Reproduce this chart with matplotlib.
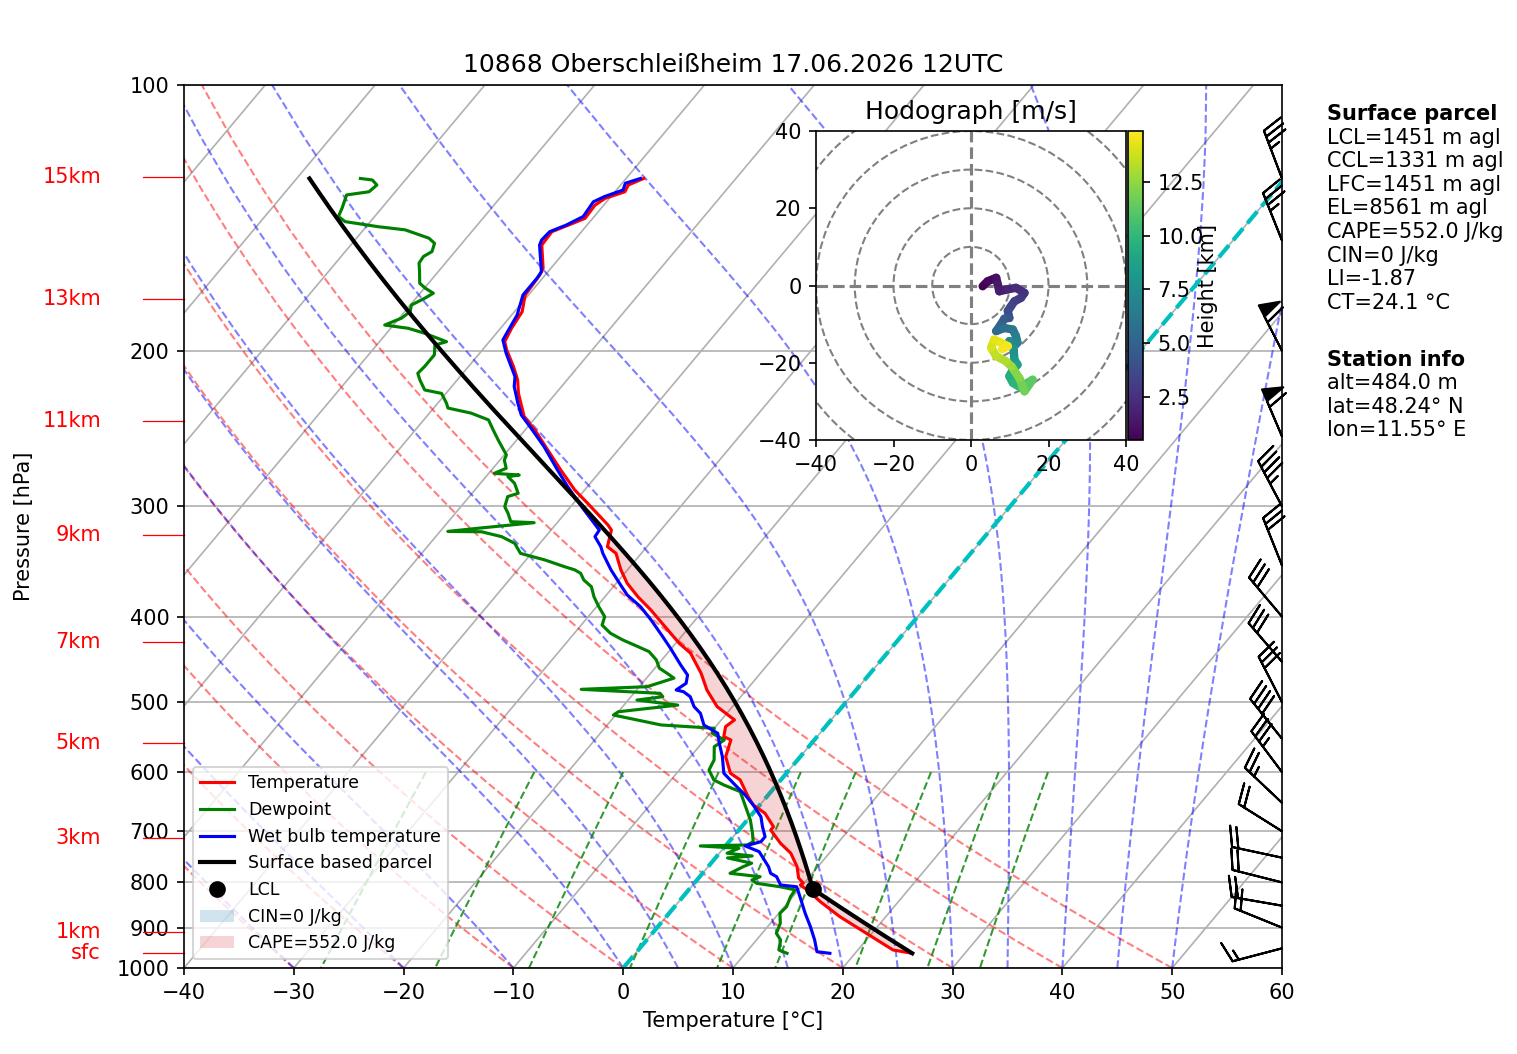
import numpy as np
import matplotlib
matplotlib.use("Agg")
import matplotlib.pyplot as plt
import matplotlib.transforms as mtransforms
from matplotlib.collections import LineCollection
from matplotlib.lines import Line2D
from matplotlib.patches import Patch, Circle
from matplotlib.ticker import FixedLocator, ScalarFormatter, NullLocator, NullFormatter

# ---- sounding values (hPa, degC) ----
p_temp = np.array([962.4, 954.1, 913.5, 874.6, 841.3, 815.8, 805.4, 801.2, 790.7, 767.8,
                   741.3, 722.3, 697.8, 691.8, 668.0, 653.7, 639.7, 612.4, 601.8, 576.3,
                   551.7, 547.0, 532.9, 523.7, 505.8, 484.3, 463.7, 440.0, 428.7, 405.4,
                   393.2, 379.8, 366.7, 354.1, 339.2, 333.3, 319.2, 315.0, 297.7, 287.5,
                   272.9, 259.1, 245.9, 237.5, 231.3, 223.5, 215.8, 208.4, 199.5, 195.3,
                   188.6, 180.6, 172.9, 164.1, 161.3, 151.8, 146.6, 144.1, 141.6, 136.8,
                   134.4, 132.1, 129.8, 127.6])
t_temp = np.array([25.2, 23.2, 19.5, 15.8, 12.9, 10.8, 9.8, 9.9, 9.1, 8.1,
                   6.5, 4.8, 2.9, 2.9, 1.1, -0.6, -1.7, -3.7, -5.1, -6.8,
                   -7.6, -8.5, -9.1, -8.8, -11.4, -13.6, -15.4, -17.9, -19.7, -23.0,
                   -24.8, -27.0, -29.0, -30.6, -32.3, -33.6, -34.5, -35.2, -38.7, -40.9,
                   -43.7, -46.4, -49.1, -51.1, -52.1, -53.4, -54.5, -55.9, -57.8, -58.6,
                   -59.0, -59.3, -60.3, -60.5, -60.7, -62.6, -62.7, -61.7, -60.7, -60.8,
                   -60.4, -59.1, -59.3, -58.4])

p_dew = np.array([962.4, 954.1, 929.6, 913.5, 890.1, 867.1, 852.4, 830.4, 815.8, 809.1,
                  801.9, 794.9, 788.1, 781.2, 767.8, 760.9, 750.5, 746.7, 741.3, 731.9,
                  727.4, 725.6, 719.4, 704.0, 680.1, 631.4, 620.5, 612.4, 596.7, 581.3,
                  561.5, 551.7, 542.3, 535.2, 530.6, 517.0, 512.6, 503.8, 497.2, 492.9,
                  488.6, 483.5, 480.2, 469.6, 463.7, 457.5, 447.8, 438.2, 432.5, 425.0,
                  417.8, 408.9, 400.1, 389.8, 379.8, 370.0, 363.6, 357.3, 354.1, 351.1,
                  345.0, 339.2, 330.4, 324.7, 320.6, 320.3, 317.7, 313.1, 312.3, 305.5,
                  300.3, 292.5, 290.0, 282.5, 277.7, 276.5, 275.3, 271.7, 265.9, 262.4,
                  252.3, 245.9, 239.5, 235.3, 232.2, 229.3, 223.5, 221.5, 215.8, 212.1,
                  208.4, 202.1, 197.0, 195.3, 191.1, 188.6, 187.0, 183.7, 180.6, 177.5,
                  174.4, 172.1, 169.9, 167.7, 162.7, 159.1, 156.4, 154.4, 151.1, 149.1,
                  145.9, 144.7, 142.8, 140.9, 137.9, 133.2, 132.1, 129.8, 128.1, 127.6])
td_dew = np.array([13.8, 12.8, 12.2, 11.3, 10.9, 10.1, 10.2, 9.8, 9.7, 8.1,
                   5.7, 5.0, 5.5, 2.5, 3.2, 3.7, 1.1, 3.2, 0.7, 1.4,
                   -2.3, 1.9, 2.2, 1.5, 0.3, -2.8, -4.8, -6.1, -7.3, -7.6,
                   -8.6, -8.2, -9.8, -10.0, -15.1, -20.2, -20.0, -15.1, -19.2, -17.1,
                   -17.6, -25.1, -19.3, -17.5, -18.5, -19.6, -20.5, -21.8, -23.2, -25.1,
                   -26.7, -28.1, -28.5, -29.8, -31.0, -32.0, -33.2, -34.0, -34.8, -36.0,
                   -38.3, -41.0, -42.3, -44.0, -46.2, -49.3, -46.8, -42.1, -44.3, -45.2,
                   -46.0, -46.5, -45.8, -46.9, -48.0, -47.1, -49.5, -48.8, -49.6, -49.8,
                   -51.7, -52.9, -54.1, -56.2, -58.7, -59.2, -60.4, -62.2, -63.4, -64.1,
                   -64.0, -64.0, -64.7, -63.9, -66.5, -68.4, -70.8, -69.8, -69.5, -69.9,
                   -69.2, -68.8, -69.9, -70.8, -71.7, -72.4, -72.5, -72.1, -72.5, -73.4,
                   -76.2, -78.9, -82.3, -83.3, -83.6, -84.2, -82.4, -82.2, -83.0, -84.2])

p_wet = np.array([962.4, 958.4, 929.6, 897.9, 867.1, 823.1, 809.1, 805.4, 788.1, 781.2,
                  767.8, 738.3, 727.4, 719.4, 710.1, 691.8, 674.1, 653.7, 636.9, 623.2,
                  601.8, 576.3, 556.5, 542.3, 530.6, 514.8, 505.8, 492.9, 486.5, 484.3,
                  476.0, 465.8, 453.7, 434.4, 421.4, 403.7, 389.8, 378.1, 366.7, 354.1,
                  339.2, 333.3, 324.7, 319.2, 300.3, 285.0, 272.9, 256.8, 244.7, 236.4,
                  229.3, 219.6, 213.9, 201.2, 194.4, 190.3, 182.2, 172.9, 165.5, 162.7,
                  151.8, 149.8, 146.6, 144.1, 140.9, 135.6, 133.8, 131.5, 129.2, 127.6])
tw_wet = np.array([17.7, 16.4, 15.3, 13.9, 12.4, 10.3, 9.6, 8.0, 7.0, 6.2,
                   5.5, 3.5, 1.8, 2.9, 2.9, 1.9, 1.0, -0.6, -2.1, -3.5,
                   -5.7, -7.1, -8.4, -9.3, -11.2, -12.4, -13.5, -14.6, -15.6, -16.4,
                   -16.0, -16.5, -17.9, -20.1, -21.7, -24.0, -26.0, -28.1, -29.7, -31.5,
                   -33.5, -34.2, -35.5, -35.6, -39.0, -41.8, -44.0, -47.0, -49.6, -51.5,
                   -52.7, -54.3, -55.0, -57.6, -58.9, -59.1, -59.5, -60.5, -60.5, -60.6,
                   -62.8, -63.0, -62.9, -61.9, -61.0, -61.2, -60.6, -59.4, -59.7, -58.7])

# wind barbs (hPa, knots)
p_barb = np.array([127.6, 150, 200, 250, 300, 350, 400, 450, 500,
                   550, 600, 650, 700, 750, 800, 850, 900, 950])
u_barb = np.array([12.4, 13.0, 27.3, 23.5, 21.0, 11.1, 19.3, 19.6, 13.7,
                   25.0, 21.0, 18.2, 16.9, 19.6, 19.4, 19.7, 18.5, 14.5])
v_barb = np.array([-32.8, -32.5, -53.4, -55.2, -39.8, -27.8, -22.9, -22.7, -26.7,
                   -31.3, -28.0, -17.2, -10.6, -4.2, -4.9, -3.4, -7.5, 3.8])

# hodograph (m/s) coloured by height (km)
hodo_u = np.array([3.0, 4.3, 6.5, 6.9, 7.3, 9.5, 11.6, 13.8, 12.9, 11.2, 10.3, 9.5,
                   9.9, 8.6, 7.7, 6.5, 8.6, 10.8, 11.6, 12.0, 9.9, 11.0, 11.2, 12.0,
                   10.8, 9.9, 10.8, 12.9, 14.6, 15.9, 13.8, 12.5, 10.5, 9.0, 6.5,
                   5.2, 6.0, 7.7, 9.5, 8.0])
hodo_v = np.array([-0.2, 1.1, 2.0, 0.3, -1.5, -1.0, -0.6, -1.9, -3.2, -4.1, -5.4, -6.6,
                   -8.4, -8.6, -10.1, -11.8, -11.0, -11.4, -13.1, -14.8, -14.4, -16.5, -19.2, -20.5,
                   -21.8, -23.5, -25.2, -26.5, -25.2, -24.4, -27.4, -24.0, -21.0, -19.6, -18.3,
                   -16.1, -14.0, -14.8, -15.7, -16.5])
hodo_z = np.array([0.47, 0.8, 1.1, 1.4, 1.7, 2.0, 2.3, 2.6, 2.9, 3.2, 3.5, 3.8,
                   4.2, 4.6, 5.0, 5.4, 5.8, 6.2, 6.6, 7.0, 7.4, 7.8, 8.2, 8.6,
                   9.0, 9.4, 9.8, 10.3, 10.8, 11.3, 11.8, 12.3, 12.8, 13.2, 13.6,
                   14.0, 14.3, 14.5, 14.7, 14.9])

km_labels = ['15km', '13km', '11km', '9km', '7km', '5km', '3km', '1km', 'sfc']
km_pres = [127.2, 174.7, 240.1, 323.3, 427.2, 556.1, 712.5, 910.5, 962.4]

title_text = '10868 Oberschleißheim 17.06.2026 12UTC'
parcel_info = ['LCL=1451 m agl', 'CCL=1331 m agl', 'LFC=1451 m agl', 'EL=8561 m agl',
               'CAPE=552.0 J/kg', 'CIN=0 J/kg', 'LI=-1.87', 'CT=24.1 °C']
station_info = ['alt=484.0 m', 'lat=48.24° N', 'lon=11.55° E']
cape_label = 'CAPE=552.0 J/kg'
cin_label = 'CIN=0 J/kg'

# ---- thermodynamics ----
SKEW = 67.4          # degC of x-shift per decade of pressure
RD = 287.04749
CPD = 1004.666
KAPPA = RD / CPD
LV = 2.50084e6
EPS = 0.6219569


def skx(t, p):
    return np.asarray(t, dtype=float) + SKEW * np.log10(1000.0 / np.asarray(p, dtype=float))


def sat_vp(tc):
    return 6.112 * np.exp(17.67 * tc / (tc + 243.5))


def mixing(p, e):
    return EPS * e / (p - e)


def dewpt(e):
    val = np.log(e / 6.112)
    return 243.5 * val / (17.67 - val)


def dtdp(p, t):
    rs = mixing(p, sat_vp(t - 273.15))
    frac = (RD * t + LV * rs) / (CPD + LV * LV * rs * EPS / (RD * t * t))
    return frac / p


def moist_lapse(pres, t0, p0):
    t = np.asarray(t0, dtype=float) + 273.15
    p = p0
    out = []
    for pn in pres:
        n = int(abs(pn - p) / 4) + 1
        h = (pn - p) / n
        for _ in range(n):
            k1 = dtdp(p, t)
            k2 = dtdp(p + h / 2, t + h * k1 / 2)
            k3 = dtdp(p + h / 2, t + h * k2 / 2)
            k4 = dtdp(p + h, t + h * k3)
            t = t + h * (k1 + 2 * k2 + 2 * k3 + k4) / 6
            p = p + h
        out.append(t - 273.15)
    return np.array(out)


def lcl(p0, t0, td0):
    w = mixing(p0, sat_vp(td0))
    p = p0
    for _ in range(40):
        td = dewpt(p * w / (EPS + w))
        p = p0 * ((td + 273.15) / (t0 + 273.15)) ** (1 / KAPPA)
    return p, dewpt(p * w / (EPS + w))


# surface based parcel
p_sfc, t_sfc, td_sfc = p_temp[0], t_temp[0], td_dew[0]
p_lcl, t_lcl = lcl(p_sfc, t_sfc, td_sfc)
p_dry = np.linspace(p_sfc, p_lcl, 20)
t_dry = (t_sfc + 273.15) * (p_dry / p_sfc) ** KAPPA - 273.15
p_moist = np.geomspace(p_lcl, p_temp[-1], 160)[1:]
t_moist = moist_lapse(p_moist, t_lcl, p_lcl)
p_parcel = np.concatenate([p_dry, p_moist])
t_parcel = np.concatenate([t_dry, t_moist])
parcel_on_t = np.interp(np.log(p_temp[::-1]), np.log(p_parcel[::-1]), t_parcel[::-1])[::-1]

# ---- figure ----
fig = plt.figure(figsize=(1517 / 150, 1054 / 150), dpi=150)
ax = fig.add_axes([184 / 1517, 86 / 1054, 1098 / 1517, 883 / 1054])
ax.set_yscale('log')
ax.set_ylim(1000, 100)
ax.set_xlim(-40, 60)
ax.yaxis.set_major_locator(FixedLocator(np.arange(100, 1001, 100)))
ax.yaxis.set_major_formatter(ScalarFormatter())
ax.yaxis.set_minor_locator(NullLocator())
ax.yaxis.set_minor_formatter(NullFormatter())
ax.set_xticks(np.arange(-40, 61, 10))
ax.set_axisbelow(True)
ax.yaxis.grid(True, color='#b0b0b0', lw=0.8)

# skewed isotherms
p_edge = np.array([1000.0, 100.0])
for c in range(-100, 61, 10):
    ax.plot(skx([c, c], p_edge), p_edge, color='#b0b0b0', lw=0.8, zorder=0.8)

# adiabats were drawn for the default -40..50 degC range
pl = np.linspace(1000, 100, 60)
for t0 in np.arange(-40, 51, 10):
    tt = (t0 + 273.15) * (pl / 1000) ** KAPPA - 273.15
    ax.plot(skx(tt, pl), pl, color='r', ls='--', lw=1, alpha=0.5, zorder=1)

t0_moist = np.concatenate([np.arange(-40, 0, 10), np.arange(0, 51, 5)])
t_ma = moist_lapse(pl[1:], t0_moist, 1000.0)
t_ma = np.vstack([t0_moist, t_ma])
for i in range(len(t0_moist)):
    ax.plot(skx(t_ma[:, i], pl), pl, color='b', ls='--', lw=1, alpha=0.5, zorder=1)

pw = np.linspace(600, 1000, 30)
for w in [0.0004, 0.001, 0.002, 0.004, 0.007, 0.01, 0.016, 0.024, 0.032]:
    tdw = dewpt(pw * w / (EPS + w))
    ax.plot(skx(tdw, pw), pw, color='g', ls='--', lw=1, alpha=0.8, zorder=1)

ax.plot(skx([0, 0], p_edge), p_edge, color='c', ls='--', lw=2, zorder=1.2)

# profiles
ax.plot(skx(t_temp, p_temp), p_temp, color='r', lw=1.5, zorder=3)
ax.plot(skx(td_dew, p_dew), p_dew, color='g', lw=1.5, zorder=3)
ax.plot(skx(tw_wet, p_wet), p_wet, color='b', lw=1.5, zorder=3)
ax.plot(skx(t_parcel, p_parcel), p_parcel, color='k', lw=2, zorder=4)
ax.plot(skx(t_lcl, p_lcl), p_lcl, 'ko', ms=7, zorder=5)

ax.fill_betweenx(p_temp, skx(t_temp, p_temp), skx(parcel_on_t, p_temp),
                 where=parcel_on_t > t_temp, interpolate=True,
                 facecolor='tab:red', alpha=0.2, zorder=2)

# wind barbs along the right edge
trans = mtransforms.blended_transform_factory(ax.transAxes, ax.transData)
ax.barbs(np.ones(len(p_barb)), p_barb, u_barb, v_barb, transform=trans,
         clip_on=False, length=7, zorder=5)

# height marks on the left
for lab, pk in zip(km_labels, km_pres):
    ax.text(-0.0756, pk, lab, color='red', ha='right', va='center', transform=trans)
    ax.plot([-0.0373, 0], [pk, pk], color='red', lw=0.6, transform=trans, clip_on=False)

ax.set_xlabel('Temperature [°C]')
ax.set_ylabel('Pressure [hPa]')
ax.yaxis.set_label_coords(-0.137, 0.5)
ax.set_title(title_text)

handles = [Line2D([], [], color='r', lw=1.5, label='Temperature'),
           Line2D([], [], color='g', lw=1.5, label='Dewpoint'),
           Line2D([], [], color='b', lw=1.5, label='Wet bulb temperature'),
           Line2D([], [], color='k', lw=2, label='Surface based parcel'),
           Line2D([], [], color='k', marker='o', ls='none', ms=7, label='LCL'),
           Patch(facecolor='tab:blue', alpha=0.2, label=cin_label),
           Patch(facecolor='tab:red', alpha=0.2, label=cape_label)]
ax.legend(handles=handles, loc='lower left', fontsize='small')

# hodograph inset
axh = fig.add_axes([816 / 1517, 614 / 1054, 310 / 1517, 309 / 1054])
axh.set_xlim(-40, 40)
axh.set_ylim(-40, 40)
for r in range(10, 80, 10):
    axh.add_patch(Circle((0, 0), r, fill=False, color='grey', ls='--', lw=1))
axh.axhline(0, color='grey', ls='--')
axh.axvline(0, color='grey', ls='--')
pts = np.column_stack([hodo_u, hodo_v]).reshape(-1, 1, 2)
segs = np.concatenate([pts[:-1], pts[1:]], axis=1)
lc = LineCollection(segs, cmap='viridis',
                    norm=plt.Normalize(hodo_z.min(), hodo_z.max()), lw=4)
lc.set_array(hodo_z[:-1])
lc.set_capstyle('round')
axh.add_collection(lc)
axh.set_xticks([-40, -20, 0, 20, 40])
axh.set_yticks([-40, -20, 0, 20, 40])
axh.set_title('Hodograph [m/s]')

cax = fig.add_axes([1128 / 1517, 614 / 1054, 15 / 1517, 309 / 1054])
cb = fig.colorbar(lc, cax=cax)
cb.set_label('Height [km]', labelpad=-3)

# info text on the right
x_info = 1327 / 1517
fig.text(x_info, 1 - 114 / 1054, 'Surface parcel', weight='bold', va='center')
for i, line in enumerate(parcel_info):
    fig.text(x_info, 1 - (114 + 23.6 * (i + 1)) / 1054, line, va='center')
fig.text(x_info, 1 - 360 / 1054, 'Station info', weight='bold', va='center')
for i, line in enumerate(station_info):
    fig.text(x_info, 1 - (360 + 23.3 * (i + 1)) / 1054, line, va='center')

fig.savefig('out.png', dpi=150)
